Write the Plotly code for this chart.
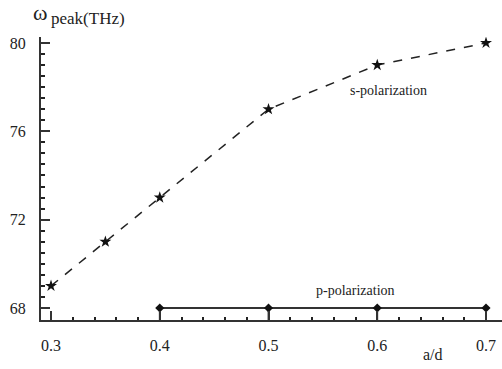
import plotly.graph_objects as go

s_x = [0.3, 0.35, 0.4, 0.5, 0.6, 0.7]
s_y = [69.0, 71.0, 73.0, 77.0, 79.0, 80.0]
p_x = [0.4, 0.5, 0.6, 0.7]
p_y = [68.0, 68.0, 68.0, 68.0]

x_range = [0.2908, 0.7147]
y_range = [67.457, 80.27]

font = "Liberation Serif"
axc = "#333333"

fig = go.Figure()
fig.add_trace(go.Scatter(
    x=s_x, y=s_y, mode="lines+markers",
    line=dict(color="#222", width=1.5, dash="dash"),
    marker=dict(symbol="star", size=9, color="#111"),
))
stem_x, stem_y = [], []
for xv, yv in zip(p_x, p_y):
    stem_x += [xv, xv, None]
    stem_y += [yv, y_range[0], None]
fig.add_trace(go.Scatter(x=stem_x, y=stem_y, mode="lines",
                         line=dict(color="#222", width=1.8)))
fig.add_trace(go.Scatter(
    x=p_x, y=p_y, mode="lines+markers",
    line=dict(color="#333", width=1.8),
    marker=dict(symbol="diamond", size=7, color="#111"),
))

fig.update_layout(
    width=502, height=369,
    margin=dict(l=41, r=0, t=37, b=49),
    plot_bgcolor="white", paper_bgcolor="white",
    showlegend=False,
    font=dict(family=font, size=15, color="#222"),
    xaxis=dict(range=x_range, showgrid=False, zeroline=False,
               showline=True, linecolor=axc, linewidth=2,
               tickmode="linear", tick0=0.3, dtick=0.1, tickformat=".1f",
               ticks="inside", ticklen=9, tickwidth=1.5, tickcolor=axc,
               ticklabelstandoff=10,
               minor=dict(dtick=0.02, tick0=0.3, ticks="inside", ticklen=3, tickcolor="#222", tickwidth=1.5,
                          showgrid=False),
               tickfont=dict(size=16, family=font)),
    yaxis=dict(range=y_range, showgrid=False, zeroline=False,
               showline=True, linecolor=axc, linewidth=2,
               tickmode="linear", tick0=68, dtick=4,
               ticks="inside", ticklen=9, tickwidth=1.5, tickcolor=axc,
               ticklabelstandoff=10,
               minor=dict(dtick=0.5, tick0=68, ticks="inside", ticklen=4, tickcolor="#222", tickwidth=1.5,
                          showgrid=False),
               tickfont=dict(size=16, family=font)),
)

W, H = 502, 369
L, R, T, B = 41, 0, 37, 49
pw, ph = W - L - R, H - T - B

def px(x, y):
    return (x - L) / pw, 1 - (y - T) / ph

fig.add_annotation(x=0.61, y=77.87, xref="x", yref="y", text="s-polarization",
                   showarrow=False, font=dict(size=14, family=font, color="#222"))
fig.add_annotation(x=0.58, y=68.8, xref="x", yref="y", text="p-polarization",
                   showarrow=False, font=dict(size=14, family=font, color="#222"))
ax, ay = px(421, 354)
fig.add_annotation(x=ax, y=ay, xref="paper", yref="paper", text="a/d", xanchor="left", yanchor="middle",
                   showarrow=False, font=dict(size=16, family=font, color="#222"))
ax, ay = px(31, 12)
fig.add_annotation(x=ax, y=ay, xref="paper", yref="paper", text="ω", xanchor="left", yanchor="middle",
                   showarrow=False, font=dict(size=22, family=font, color="#222"))
ax, ay = px(49, 19)
fig.add_annotation(x=ax, y=ay, xref="paper", yref="paper", text="peak(THz)", xanchor="left", yanchor="middle",
                   showarrow=False, font=dict(size=17, family=font, color="#222"))

fig.write_html("out.html")
